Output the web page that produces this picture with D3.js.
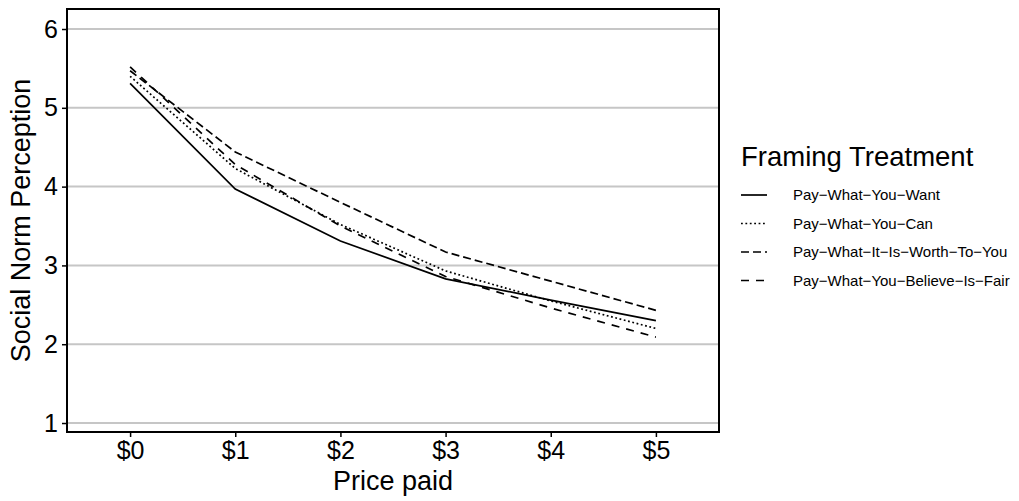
<!DOCTYPE html>
<html>
<head>
<meta charset="utf-8">
<script src="https://cdn.jsdelivr.net/npm/d3@7"></script>
<style>
  body { margin: 0; background: #fff; }
  text { font-family: "Liberation Sans", Arial, sans-serif; }
</style>
</head>
<body>
<div id="chart"></div>
<script>
// Data
const prices = [0, 1, 2, 3, 4, 5];
const priceLabels = ["$0", "$1", "$2", "$3", "$4", "$5"];
const yTicks = [1, 2, 3, 4, 5, 6];
const seriesNames = [
  "Pay\u2212What\u2212You\u2212Want",
  "Pay\u2212What\u2212You\u2212Can",
  "Pay\u2212What\u2212It\u2212Is\u2212Worth\u2212To\u2212You",
  "Pay\u2212What\u2212You\u2212Believe\u2212Is\u2212Fair"
];
const wantValues = [5.31, 3.97, 3.31, 2.83, 2.56, 2.30];
const canValues = [5.40, 4.23, 3.52, 2.93, 2.55, 2.20];
const worthValues = [5.47, 4.44, 3.80, 3.17, 2.80, 2.43];
const fairValues = [5.52, 4.28, 3.50, 2.86, 2.46, 2.09];

const seriesValues = [wantValues, canValues, worthValues, fairValues];
const dashes = [null, "1.8,2.6", "8,4", "8,7"];

const w = 1019;
const h = 501;
const plot = { left: 67, right: 719, top: 9, bottom: 432 };

const svg = d3.select("#chart")
              .append("svg")
              .attr("width", w)
              .attr("height", h);

// scales
const xScale = d3.scaleLinear()
                 .domain([-0.6, 5.6])
                 .range([plot.left, plot.right]);
const yScale = d3.scaleLinear()
                 .domain([0.886, 6.254])
                 .range([plot.bottom, plot.top]);

// gridlines
svg.append("g")
   .selectAll("line")
   .data(yTicks)
   .enter()
   .append("line")
   .attr("x1", plot.left)
   .attr("x2", plot.right)
   .attr("y1", d => yScale(d))
   .attr("y2", d => yScale(d))
   .attr("stroke", "#c6c6c6")
   .attr("stroke-width", 2);

// lines
const line = d3.line()
               .x((d, i) => xScale(prices[i]))
               .y(d => yScale(d));

svg.append("g")
   .selectAll("path")
   .data(seriesValues)
   .enter()
   .append("path")
   .attr("d", d => line(d))
   .attr("fill", "none")
   .attr("stroke", "#000")
   .attr("stroke-width", 1.7)
   .attr("stroke-dasharray", (d, i) => dashes[i]);

// plot box
svg.append("rect")
   .attr("x", plot.left)
   .attr("y", plot.top)
   .attr("width", plot.right - plot.left)
   .attr("height", plot.bottom - plot.top)
   .attr("fill", "none")
   .attr("stroke", "#000")
   .attr("stroke-width", 2);

// axes
const yAxis = d3.axisLeft(yScale)
                .tickValues(yTicks)
                .tickSize(5)
                .tickPadding(4)
                .tickFormat(d3.format("d"));
const yg = svg.append("g")
              .attr("transform", `translate(${plot.left},0)`)
              .call(yAxis);
yg.select(".domain").remove();
yg.selectAll("text").attr("font-size", 25).attr("fill", "#000");
yg.selectAll("line").attr("stroke-width", 1.5);

const xAxis = d3.axisBottom(xScale)
                .tickValues(prices)
                .tickSize(5)
                .tickPadding(4)
                .tickFormat((d, i) => priceLabels[i]);
const xg = svg.append("g")
              .attr("transform", `translate(0,${plot.bottom})`)
              .call(xAxis);
xg.select(".domain").remove();
xg.selectAll("text").attr("font-size", 25).attr("fill", "#000");
xg.selectAll("line").attr("stroke-width", 1.5);

// axis titles
svg.append("text")
   .attr("x", (plot.left + plot.right) / 2)
   .attr("y", 490)
   .attr("text-anchor", "middle")
   .attr("font-size", 27)
   .text("Price paid");

svg.append("text")
   .attr("transform", `translate(30,${(plot.top + plot.bottom) / 2}) rotate(-90)`)
   .attr("text-anchor", "middle")
   .attr("font-size", 27)
   .text("Social Norm Perception");

// legend
const legend = svg.append("g").attr("transform", "translate(741,0)");
legend.append("text")
      .attr("x", 0)
      .attr("y", 166)
      .attr("font-size", 27.5)
      .text("Framing Treatment");

const items = legend.selectAll("g.item")
                    .data(seriesNames)
                    .enter()
                    .append("g")
                    .attr("class", "item")
                    .attr("transform", (d, i) => `translate(0,${195 + i * 28.5})`);
items.append("line")
     .attr("x1", 0)
     .attr("x2", 26)
     .attr("stroke", "#000")
     .attr("stroke-width", 1.7)
     .attr("stroke-dasharray", (d, i) => dashes[i]);
items.append("text")
     .attr("x", 52)
     .attr("y", 5)
     .attr("font-size", 15)
     .text(d => d);
</script>
</body>
</html>
